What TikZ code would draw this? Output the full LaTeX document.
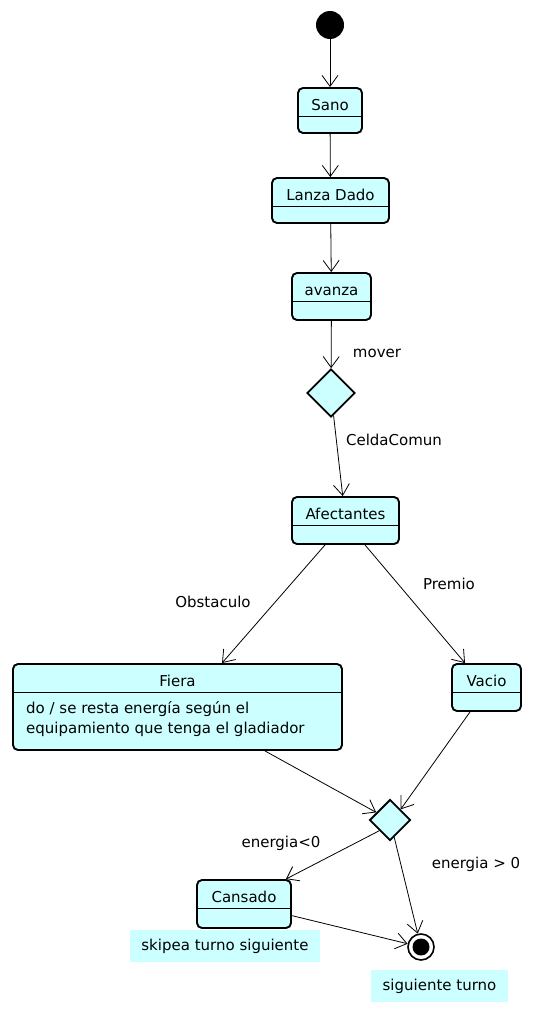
\documentclass[tikz,border=0pt]{standalone}
\usepackage{fontspec}
\setmainfont{DejaVu Sans}
\usetikzlibrary{arrows.meta,shapes.geometric,calc,positioning}
\definecolor{color_state}{HTML}{CCFFFF}

\tikzset{
  state/.style={draw, line width=1.9pt, rounded corners=5pt, fill=color_state, inner sep=0pt},
  statename/.style={anchor=base, inner sep=0pt},
  divider/.style={line width=0.8pt},
  choice/.style={diamond, draw, line width=1.9pt, fill=color_state, inner sep=0pt},
  flow/.style={-{Straight Barb[length=11pt,width=16pt]}, line width=0.8pt},
  guard/.style={inner sep=0pt},
  note/.style={fill=color_state, inner sep=0pt},
}

\begin{document}
\begin{tikzpicture}[x=1pt,y=-1pt,every node/.style={font=\fontsize{15}{20}\selectfont}]
	\useasboundingbox (0,0) rectangle (536,1014);
	% Initial point
	\node[circle, fill=black, minimum size=28pt, inner sep=0pt] (init) at (330,25) {};

	% States
	\node[state, minimum width=64pt, minimum height=45pt] (sano) at (330,110.5) {};
	\node[state, minimum width=117pt, minimum height=45pt] (lanza) at (330.5,200.5) {};
	\node[state, minimum width=79pt, minimum height=47pt] (avanza) at (331.5,296.5) {};
	\node[state, minimum width=107pt, minimum height=47pt] (afect) at (345.5,520.5) {};
	\node[state, minimum width=329pt, minimum height=86pt] (fiera) at (177.5,707) {};
	\node[state, minimum width=69pt, minimum height=47pt] (vacio) at (486.5,687.5) {};
	\node[state, minimum width=94pt, minimum height=48pt] (cansado) at (244,904) {};

	\foreach \s/\t in {sano/Sano, lanza/Lanza Dado, avanza/avanza, afect/Afectantes,
		fiera/Fiera, vacio/Vacio, cansado/Cansado}
	{
		\node[statename] (\s-name) at ([yshift=-23pt]\s.north) {\t};
		\draw[divider] ([yshift=-29pt]\s.north west) -- ([yshift=-29pt]\s.north east);
	}

	\node[anchor=north west, align=left, inner sep=0pt] (fiera-do) at (26,701)
		{do / se resta energía según el\\equipamiento que tenga el gladiador};

	% Choices
	\node[choice, minimum size=48pt] (mover) at (331,393) {};
	\node[choice, minimum size=41pt] (energia) at (390,820) {};

	% Final point
	\node[circle, draw, line width=1.6pt, fill=white, minimum size=26pt, inner sep=0pt] (final) at (421,947) {};
	\node[circle, fill=black, minimum size=17pt, inner sep=0pt] (final-dot) at (final) {};

	% Notes
	\node[note, minimum width=190pt, minimum height=32pt] (skip-note) at (225,946) {skipea turno siguiente};
	\node[note, minimum width=137pt, minimum height=32pt] (turn-note) at (439.5,986) {siguiente turno};

	% Transitions
	\draw[flow] (init) -- (sano);
	\draw[flow] (sano) -- (lanza);
	\draw[flow] (lanza) -- (avanza);
	\draw[flow] (avanza) -- (mover);
	\draw[flow] (mover) -- (afect);
	\draw[flow] ([xshift=-20.5pt]afect.south) -- ([xshift=44.5pt]fiera.north);
	\draw[flow] ([xshift=19.5pt]afect.south) -- ([xshift=-21.5pt]vacio.north);
	\draw[flow] ([xshift=87.5pt]fiera.south) -- (energia);
	\draw[flow] ([xshift=-16.5pt]vacio.south) -- (energia.north east);
	\draw[flow] (energia.south west) -- ([xshift=-6pt]cansado.north east);
	\draw[flow] (energia) -- (final);
	\draw[flow] (cansado) -- (final);

	% Guards
	\node[guard] (mover-label) at (377,353) {mover};
	\node[guard] (celda-label) at (394,440) {CeldaComun};
	\node[guard] (obst-label) at (213,602) {Obstaculo};
	\node[guard] (premio-label) at (449,584) {Premio};
	\node[guard] (neg-label) at (281,843) {energia<0};
	\node[guard] (pos-label) at (476,864) {energia > 0};
\end{tikzpicture}
\end{document}
